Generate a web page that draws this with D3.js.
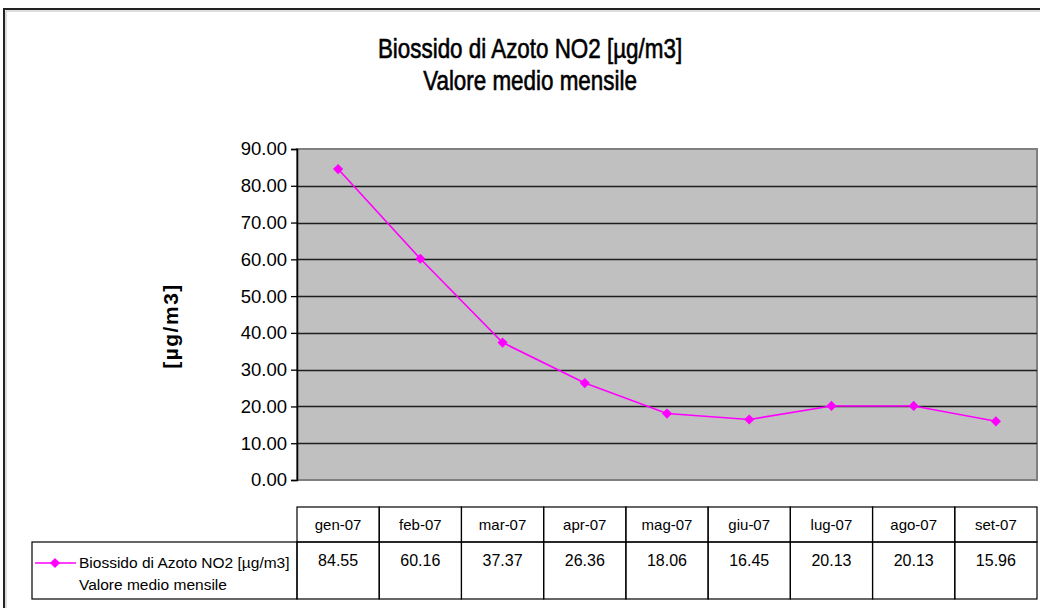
<!DOCTYPE html>
<html>
<head>
<meta charset="utf-8">
<script src="https://cdn.jsdelivr.net/npm/d3@7"></script>
<style>
  html, body { margin: 0; padding: 0; background: #ffffff; }
  svg { display: block; }
  text { font-family: "Liberation Sans", Arial, Helvetica, sans-serif; fill: #000; }
</style>
</head>
<body>
<svg id="chart" width="1040" height="608"></svg>
<script>
// Monthly mean NO2 concentration, 2007
const months = ["gen-07", "feb-07", "mar-07", "apr-07", "mag-07", "giu-07", "lug-07", "ago-07", "set-07"];
const no2Values = [84.55, 60.16, 37.37, 26.36, 18.06, 16.45, 20.13, 20.13, 15.96];
const yTicks = [0, 10, 20, 30, 40, 50, 60, 70, 80, 90];
const titleLines = ["Biossido di Azoto NO2 [µg/m3]", "Valore medio mensile"];
const seriesLabel = ["Biossido di Azoto NO2 [µg/m3]", "Valore medio mensile"];
const yAxisTitle = "[µg/m3]";

const svg = d3.select("#chart");
const W = 1040, H = 608;

const plot = { left: 297, right: 1037, top: 149, bottom: 480 };
const table = { legendLeft: 32, headTop: 507, rowTop: 542, rowBottom: 599 };
const accent = "#ff00ff";

// Outer frame (top and left edges visible)
svg.append("path")
  .attr("d", `M4,${H} L4,9 L${W},9`)
  .attr("fill", "none").attr("stroke", "#222").attr("stroke-width", 2);
svg.append("path")
  .attr("d", `M6,${H} L6,11 L${W},11`)
  .attr("fill", "none").attr("stroke", "#bbb").attr("stroke-width", 1);

// Title (condensed face)
const title = svg.append("g").attr("transform", "translate(530,0) scale(0.83,1)");
title.selectAll("text").data(titleLines).join("text")
  .attr("x", 0)
  .attr("y", (d, i) => 58 + i * 32)
  .attr("text-anchor", "middle")
  .attr("font-size", 27)
  .attr("stroke", "#000")
  .attr("stroke-width", 0.6)
  .text(d => d);

// Scales
const x = d3.scaleBand().domain(months).range([plot.left, plot.right]).padding(0);
const y = d3.scaleLinear().domain([0, 90]).range([plot.bottom, plot.top]);

// Plot background
svg.append("rect")
  .attr("x", plot.left).attr("y", plot.top)
  .attr("width", plot.right - plot.left).attr("height", plot.bottom - plot.top)
  .attr("fill", "#c0c0c0")
  .attr("stroke", "#808080").attr("stroke-width", 2);

// Gridlines
svg.append("g").selectAll("line")
  .data(yTicks.filter(t => t > 0 && t < 90)).join("line")
  .attr("x1", plot.left).attr("x2", plot.right)
  .attr("y1", d => Math.round(y(d)) + 0.5).attr("y2", d => Math.round(y(d)) + 0.5)
  .attr("stroke", "#1e1e1e").attr("stroke-width", 1.3);

// Y axis
const yAxis = d3.axisLeft(y).tickValues(yTicks).tickFormat(d3.format(".2f")).tickSize(6).tickPadding(4);
const yg = svg.append("g").attr("transform", `translate(${plot.left},0)`).call(yAxis);
yg.select(".domain").attr("stroke", "#000").attr("stroke-width", 1.5);
yg.selectAll(".tick line").attr("stroke", "#000").attr("stroke-width", 1.3);
yg.selectAll(".tick text")
  .attr("font-family", "\"Liberation Sans\", Arial, sans-serif")
  .attr("font-size", 18.5).attr("fill", "#222");

// Y axis title
svg.append("text")
  .attr("transform", "translate(178,326) rotate(-90)")
  .attr("text-anchor", "middle")
  .attr("font-size", 21)
  .attr("font-weight", "bold")
  .attr("letter-spacing", 1.5)
  .text(yAxisTitle);

// Series line and markers
const cx = d => x(d) + x.bandwidth() / 2;
const series = months.map((m, i) => ({ m, v: no2Values[i] }));

svg.append("path")
  .datum(series)
  .attr("fill", "none")
  .attr("stroke", accent)
  .attr("stroke-width", 1.6)
  .attr("d", d3.line().x(d => cx(d.m)).y(d => y(d.v)));

// Square symbol turned 45° gives an even diamond
const diamond = d3.symbol().type(d3.symbolSquare).size(52);
svg.append("g").selectAll("path")
  .data(series).join("path")
  .attr("transform", d => `translate(${cx(d.m)},${y(d.v)}) rotate(45)`)
  .attr("d", diamond)
  .attr("fill", accent);

// Data table
const tg = svg.append("g");
const lineStyle = sel => sel.attr("stroke", "#000").attr("stroke-width", 1.2).attr("fill", "none");

// Header row cells
tg.selectAll("rect.head").data(months).join("rect")
  .attr("class", "head")
  .attr("x", d => x(d)).attr("y", table.headTop)
  .attr("width", x.bandwidth()).attr("height", table.rowTop - table.headTop)
  .call(lineStyle);
// Value row cells
tg.selectAll("rect.val").data(months).join("rect")
  .attr("class", "val")
  .attr("x", d => x(d)).attr("y", table.rowTop)
  .attr("width", x.bandwidth()).attr("height", table.rowBottom - table.rowTop)
  .call(lineStyle);
// Legend cell
tg.append("rect")
  .attr("x", table.legendLeft).attr("y", table.rowTop)
  .attr("width", plot.left - table.legendLeft).attr("height", table.rowBottom - table.rowTop)
  .call(lineStyle);

tg.selectAll("text.head").data(months).join("text")
  .attr("class", "head")
  .attr("x", d => cx(d)).attr("y", 530)
  .attr("text-anchor", "middle")
  .attr("font-size", 15)
  .text(d => d);

tg.selectAll("text.val").data(series).join("text")
  .attr("class", "val")
  .attr("x", d => cx(d.m)).attr("y", 566)
  .attr("text-anchor", "middle")
  .attr("font-size", 16)
  .text(d => d3.format(".2f")(d.v));

// Legend key
tg.append("line")
  .attr("x1", 35).attr("x2", 76).attr("y1", 563).attr("y2", 563)
  .attr("stroke", accent).attr("stroke-width", 1.6);
tg.append("path")
  .attr("transform", "translate(55,563) rotate(45)")
  .attr("d", diamond)
  .attr("fill", accent);
tg.selectAll("text.leg").data(seriesLabel).join("text")
  .attr("class", "leg")
  .attr("x", 79).attr("y", (d, i) => 568 + i * 22)
  .attr("font-size", 15.5)
  .text(d => d);
</script>
</body>
</html>
